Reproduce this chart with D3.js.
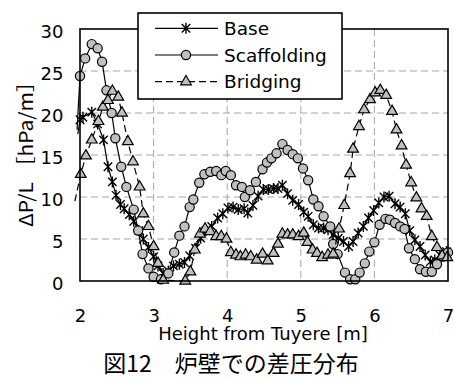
<!DOCTYPE html>
<html>
<head>
<meta charset="utf-8">
<script src="https://cdn.jsdelivr.net/npm/d3@7"></script>
<style>
  body { margin: 0; background: #fff; }
  svg text { font-family: "DejaVu Sans", sans-serif; fill: #000; }
  .jp { font-family: "Noto Sans CJK JP", sans-serif; }
</style>
</head>
<body>
<script>
// height from tuyere [m] and pressure gradient [hPa/m]
var baseH = [1.97,2.00,2.04,2.16,2.24,2.32,2.38,2.44,2.49,2.55,2.60,2.67,2.73,2.80,2.86,2.93,3.00,3.06,3.13,3.20,3.27,3.35,3.42,3.49,3.57,3.64,3.71,3.79,3.87,3.94,4.01,4.08,4.15,4.23,4.28,4.35,4.42,4.49,4.56,4.63,4.69,4.75,4.82,4.89,4.97,5.04,5.10,5.17,5.24,5.31,5.37,5.44,5.51,5.58,5.65,5.71,5.78,5.85,5.92,5.99,6.06,6.13,6.20,6.28,6.35,6.42,6.48,6.55,6.62,6.69,6.76,6.82,6.89,6.98];
var baseDP = [17.5,19.2,19.5,20.1,18.7,16.8,13.6,11.8,10.2,9.1,8.6,7.9,7.1,6.0,5.0,4.0,2.9,1.8,0.9,1.2,1.8,2.0,2.2,3.0,3.9,5.1,6.0,6.5,7.5,8.0,8.7,8.8,8.5,8.6,8.1,9.0,10.1,10.9,10.9,11.0,11.0,11.4,10.4,9.6,9.1,8.2,7.7,6.7,6.3,6.3,6.1,5.5,5.1,4.7,4.1,4.7,5.7,6.5,7.5,8.4,9.3,10.0,10.1,9.2,8.8,8.0,6.0,4.9,4.1,3.1,2.3,2.5,3.1,3.5];

var scafH = [1.96,2.00,2.07,2.16,2.24,2.30,2.36,2.43,2.48,2.56,2.63,2.73,2.79,2.85,2.93,3.00,3.10,3.20,3.28,3.35,3.42,3.49,3.54,3.62,3.69,3.77,3.85,3.92,3.98,4.05,4.12,4.20,4.24,4.31,4.39,4.48,4.54,4.60,4.67,4.75,4.82,4.89,4.96,5.03,5.10,5.17,5.24,5.31,5.40,5.44,5.50,5.60,5.67,5.74,5.80,5.87,5.93,6.00,6.07,6.15,6.21,6.28,6.35,6.41,6.47,6.55,6.62,6.70,6.78,6.85,6.93,7.00];
var scafDP = [18.0,24.4,26.5,28.2,27.7,26.1,22.7,20.0,17.0,13.6,11.2,8.5,6.0,3.2,1.5,0.5,0.2,0.9,3.4,5.4,6.5,8.8,9.7,11.7,12.7,13.0,13.1,12.6,13.1,12.6,11.4,11.2,10.0,10.8,11.8,13.3,14.1,14.6,15.2,16.3,15.6,15.1,14.6,13.4,12.0,9.7,8.9,7.7,6.5,4.4,3.2,1.0,0.2,0.2,1.0,2.1,3.5,4.6,6.7,7.4,7.3,6.9,6.5,6.2,3.9,2.6,1.4,1.1,1.1,2.0,2.9,3.4];

var bridH = [1.93,2.01,2.08,2.16,2.25,2.31,2.38,2.44,2.52,2.57,2.65,2.72,2.81,2.86,2.93,3.00,3.06,3.13,3.43,3.50,3.56,3.63,3.70,3.77,3.85,3.92,3.99,4.05,4.12,4.18,4.25,4.32,4.40,4.48,4.55,4.63,4.69,4.75,4.82,4.89,4.97,5.04,5.09,5.16,5.22,5.29,5.37,5.44,5.52,5.59,5.67,5.71,5.79,5.86,5.94,6.01,6.08,6.16,6.24,6.30,6.37,6.43,6.50,6.57,6.64,6.71,6.78,6.85,6.92,6.99];
var bridDP = [9.5,12.7,14.9,16.8,19.0,20.7,21.5,22.6,21.9,20.0,16.6,14.2,11.2,8.0,6.5,4.1,2.1,0.1,0.0,1.1,3.7,5.6,6.2,5.9,5.3,5.3,5.0,3.4,3.1,2.9,3.1,2.9,2.5,3.2,2.4,3.3,4.4,5.6,5.5,5.5,5.3,5.7,4.6,3.7,3.3,2.8,3.1,3.2,6.2,9.0,12.8,15.7,18.4,20.4,21.6,22.4,22.7,22.1,20.2,18.0,16.1,13.8,11.7,9.9,8.6,7.7,5.3,4.0,3.0,2.8];

var seriesNames = ["Base", "Scaffolding", "Bridging"];
var xTicks = [2, 3, 4, 5, 6, 7];
var yTicks = [0, 5, 10, 15, 20, 25, 30];

var width = 454, height = 379;
var plotL = 80, plotR = 448, plotT = 29, plotB = 281;

var svg = d3.select("body").append("svg")
    .attr("width", width)
    .attr("height", height);

svg.append("rect").attr("width", width).attr("height", height).attr("fill", "#fff");

var x = d3.scaleLinear().domain([2, 7]).range([plotL, plotR]);
var y = d3.scaleLinear().domain([0, 30]).range([plotB, plotT]);

// dashed grid
svg.append("g").selectAll("line")
    .data(xTicks.slice(1, -1))
    .enter().append("line")
    .attr("x1", d => x(d)).attr("x2", d => x(d))
    .attr("y1", plotT).attr("y2", plotB)
    .attr("stroke", "#a6a6a6").attr("stroke-dasharray", "7,4");
svg.append("g").selectAll("line")
    .data(yTicks.slice(1, -1))
    .enter().append("line")
    .attr("x1", plotL).attr("x2", plotR)
    .attr("y1", d => y(d)).attr("y2", d => y(d))
    .attr("stroke", "#a6a6a6").attr("stroke-dasharray", "7,4");

// axes (labels only)
var yAxis = svg.append("g")
    .attr("transform", "translate(" + plotL + ",2.5)")
    .call(d3.axisLeft(y).tickValues(yTicks).tickFormat(d3.format("d")).tickSize(0).tickPadding(16.5));
var xAxis = svg.append("g")
    .attr("transform", "translate(0," + plotB + ")")
    .call(d3.axisBottom(x).tickValues(xTicks).tickFormat(d3.format("d")).tickSize(0).tickPadding(28));
[yAxis, xAxis].forEach(function(a) {
  a.select(".domain").remove();
  a.selectAll("text").style("font-family", "DejaVu Sans, sans-serif").style("font-size", "18px");
});

var starPath = "M0,-5.5V5.5M-4.2,-4.2L4.2,4.2M-4.2,4.2L4.2,-4.2";
var triPath = d3.symbol().type(d3.symbolTriangle).size(50)();

function drawMarker(g, type) {
  if (type === 0) {
    g.append("path").attr("d", starPath).attr("fill", "none")
      .attr("stroke", "#000").attr("stroke-width", 1.4);
  } else if (type === 1) {
    g.append("circle").attr("r", 4.6).attr("fill", "#c0c0c0")
      .attr("stroke", "#000").attr("stroke-width", 1.2);
  } else {
    g.append("path").attr("d", triPath).attr("fill", "#c0c0c0")
      .attr("stroke", "#000").attr("stroke-width", 1.2);
  }
}

var series = [
  {h: baseH, dp: baseDP, dash: null},
  {h: scafH, dp: scafDP, dash: null},
  {h: bridH, dp: bridDP, dash: "7,4"}
];

var line = d3.line().x(d => x(d[0])).y(d => y(d[1]));

series.forEach(function(s, i) {
  var pts = s.h.map((h, j) => [h, s.dp[j]]);
  svg.append("path")
    .datum(pts)
    .attr("d", line)
    .attr("fill", "none")
    .attr("stroke", "#000")
    .attr("stroke-width", 1.2)
    .attr("stroke-dasharray", s.dash);
  svg.append("g").selectAll("g")
    .data(pts.filter(p => p[0] >= 2))
    .enter().append("g")
    .attr("transform", p => "translate(" + x(p[0]) + "," + y(p[1]) + ")")
    .each(function() { drawMarker(d3.select(this), i); });
});

// plot frame
svg.append("rect")
    .attr("x", plotL).attr("y", plotT)
    .attr("width", plotR - plotL).attr("height", plotB - plotT)
    .attr("fill", "none").attr("stroke", "#000").attr("stroke-width", 1.6);

// legend
var lg = svg.append("g");
lg.append("rect")
    .attr("x", 138).attr("y", 13).attr("width", 204).attr("height", 86)
    .attr("fill", "#fff").attr("stroke", "#000").attr("stroke-width", 1.6);
seriesNames.forEach(function(name, i) {
  var ly = 28.3 + i * 26.7;
  lg.append("line")
    .attr("x1", 155).attr("x2", 218).attr("y1", ly).attr("y2", ly)
    .attr("stroke", "#000").attr("stroke-width", 1.2)
    .attr("stroke-dasharray", series[i].dash);
  var m = lg.append("g").attr("transform", "translate(186," + ly + ")");
  drawMarker(m, i);
  lg.append("text")
    .attr("x", 224).attr("y", ly + 6.5)
    .style("font-size", "18.5px")
    .text(name);
});

// axis titles
svg.append("text")
    .attr("x", 263).attr("y", 340)
    .attr("text-anchor", "middle")
    .style("font-size", "18px")
    .text("Height from Tuyere [m]");

svg.append("text")
    .attr("class", "jp")
    .attr("transform", "translate(33,149) rotate(-90)")
    .attr("text-anchor", "middle")
    .attr("textLength", 156)
    .attr("lengthAdjust", "spacingAndGlyphs")
    .style("font-size", "19px")
    .text("ΔP/L ［hPa/m］");

svg.append("text")
    .attr("class", "jp")
    .attr("x", 231).attr("y", 372)
    .attr("text-anchor", "middle")
    .style("font-size", "23px")
    .text("図12　炉壁での差圧分布");
</script>
</body>
</html>
